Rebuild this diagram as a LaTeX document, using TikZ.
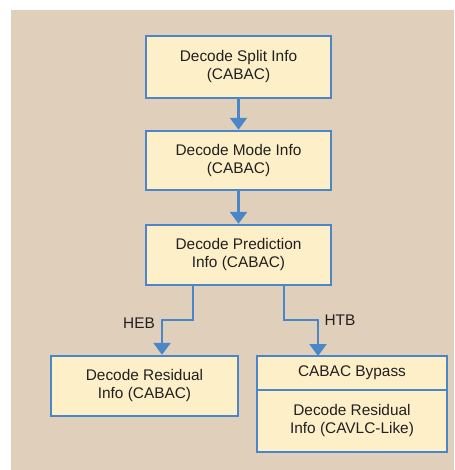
\documentclass[tikz,border=0pt]{standalone}
\usepackage{fontspec}
\setmainfont{Liberation Sans}
\usepackage{tikz}
\usetikzlibrary{arrows.meta,positioning,calc}
\definecolor{bgtan}{HTML}{E0D0BB}
\definecolor{boxfill}{HTML}{FDEFC8}
\definecolor{boxline}{HTML}{4A86C8}
\definecolor{inkdark}{HTML}{231F20}

\tikzset{
    blockbox/.style = {draw = boxline, fill = boxfill, line width = 2.4pt, align = center,
        minimum width = 185pt, minimum height = 60pt, inner sep = 2pt, text = inkdark,
        font = \fontsize{15.4}{18}\selectfont},
    flow/.style = {draw = boxline, line width = 2.4pt, -{Triangle[width=17pt,length=12pt]}},
    branchlabel/.style = {text = inkdark, font = \fontsize{15.4}{18}\selectfont}
}

\begin{document}
\begin{tikzpicture}[x = 1pt, y = -1pt]
    \useasboundingbox (0,0) rectangle (454,470);
    \fill[bgtan] (11,10) rectangle (454,470);
    \node[blockbox, minimum height = 62pt] (split) at (238.5,67) {Decode Split Info\\(CABAC)};
    \node[blockbox, minimum height = 59pt] (mode) at (238.5,160.5) {Decode Mode Info\\(CABAC)};
    \node[blockbox] (pred) at (238.5,255) {Decode Prediction\\Info (CABAC)};
    \node[blockbox, minimum width = 187pt] (resid) at (144.5,386) {Decode Residual\\Info (CABAC)};
    \node[blockbox, minimum width = 190pt, minimum height = 34pt, outer sep = 0pt] (bypass) at (352,373) {CABAC Bypass};
    \node[blockbox, minimum width = 190pt, minimum height = 62pt, outer sep = 0pt, anchor = north] (cavlc) at (bypass.south) {Decode Residual\\Info (CAVLC-Like)};
    \coordinate (hebknee) at (162,320);
    \coordinate (htbknee) at (318,320);
    \draw[flow] (split) -- (mode);
    \draw[flow] (mode) -- (pred);
    \draw[flow] ([xshift=-45.5pt]pred.south) |- (hebknee) -- (hebknee |- resid.north);
    \draw[flow] ([xshift=45.5pt]pred.south) |- (htbknee) -- (htbknee |- bypass.north);
    \node[branchlabel] (heb) at (139,323) {HEB};
    \node[branchlabel] (htb) at (340,320) {HTB};
\end{tikzpicture}
\end{document}
